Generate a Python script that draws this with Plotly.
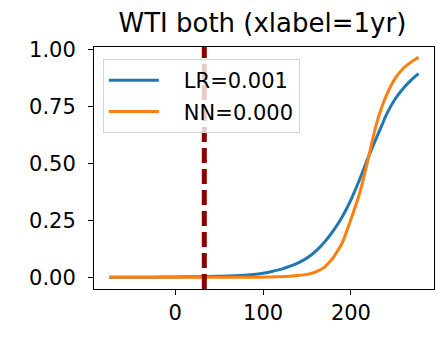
import plotly.graph_objects as go

# horizon (days) at which each model's probability was evaluated
x_days = [-75, -50, -25, 0, 25, 50, 75, 100, 110, 120, 130, 140, 150, 160, 170,
          180, 190, 200, 210, 220, 225, 230, 235, 240, 250, 260, 270, 277]

lr_prob = [0.0002, 0.0004, 0.0008, 0.0015, 0.003, 0.005, 0.008, 0.018, 0.026, 0.035,
           0.048, 0.064, 0.085, 0.115, 0.155, 0.205, 0.265, 0.34, 0.43, 0.53,
           0.575, 0.62, 0.665, 0.71, 0.78, 0.83, 0.87, 0.893]

nn_prob = [0.0, 0.0, 0.0, 0.0, 0.0, 0.0, 0.0003, 0.001, 0.002, 0.003,
           0.005, 0.008, 0.013, 0.024, 0.045, 0.087, 0.15, 0.255, 0.37, 0.525,
           0.61, 0.685, 0.745, 0.795, 0.87, 0.918, 0.948, 0.965]

series_names = ["LR=0.001", "NN=0.000"]
series_colors = ["#1f77b4", "#ff7f0e"]
marker_day = 33  # label horizon marker

fig = go.Figure()
for i, (name, ys, col) in enumerate(zip(series_names, [lr_prob, nn_prob], series_colors)):
    fig.add_trace(go.Scatter(
        x=x_days, y=ys, mode="lines", name="\u00a0\u00a0\u00a0" + name,
        legendgroup=str(i),
        line=dict(color=col, width=3, shape="spline", smoothing=0.4),
    ))

fig.add_shape(type="line", xref="x", yref="paper", x0=marker_day, x1=marker_day,
              y0=0, y1=1, line=dict(color="#8b0000", width=5, dash="15px,6px"),
              layer="above")

font_family = "DejaVu Sans"
fig.update_layout(
    width=447, height=337,
    margin=dict(l=94, r=13, t=47, b=46),
    paper_bgcolor="white", plot_bgcolor="white",
    font=dict(family=font_family, size=21, color="black"),
    title=dict(text="WTI both (xlabel=1yr)", x=0.587, xanchor="center",
               y=0.933, yanchor="middle", font=dict(size=26, family=font_family)),
    showlegend=True,
    legend=dict(x=0.026, y=0.95, xanchor="left", yanchor="top",
                bgcolor="rgba(255,255,255,0.8)", bordercolor="#d6d6d6", borderwidth=1,
                font=dict(size=21, family=font_family), traceorder="grouped",
                tracegroupgap=1, itemwidth=50),
)
fig.update_xaxes(range=[-92.6, 294.6], tickmode="array", tickvals=[0, 100, 200],
                 showgrid=False, zeroline=False, showline=True, mirror=True,
                 linecolor="black", linewidth=1, ticks="outside", ticklen=5,
                 tickcolor="black", tickfont=dict(size=21))
fig.update_yaxes(range=[-0.051, 1.010], tickmode="array",
                 tickvals=[0, 0.25, 0.5, 0.75, 1.0], tickformat=".2f",
                 showgrid=False, zeroline=False, showline=True, mirror=True,
                 linecolor="black", linewidth=1, ticks="outside", ticklen=5,
                 tickcolor="black", tickfont=dict(size=21), ticklabelstandoff=8)

fig.write_html("out.html")
